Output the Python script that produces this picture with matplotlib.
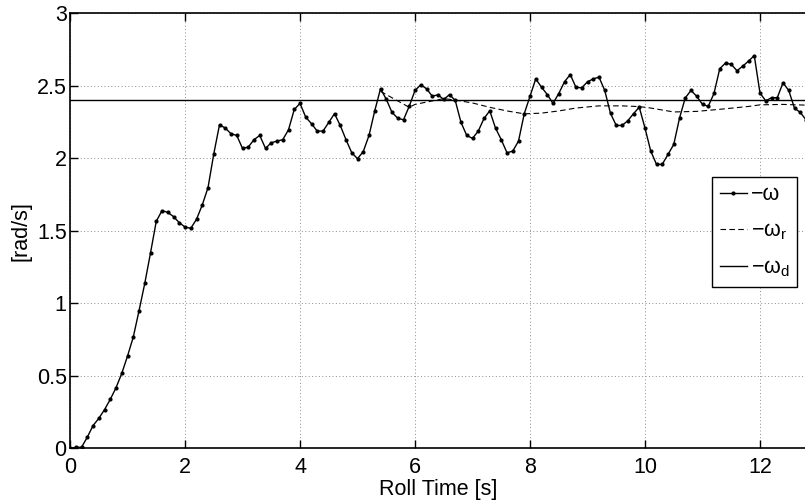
import numpy as np
import matplotlib
matplotlib.use("Agg")
import matplotlib.pyplot as plt

plt.rcParams['font.family'] = ['Liberation Sans', 'DejaVu Sans']
plt.rcParams['mathtext.fontset'] = 'custom'
plt.rcParams['mathtext.rm'] = 'Liberation Sans'
plt.rcParams['mathtext.it'] = 'Liberation Sans'

FS = 15.5

# Measured roll rate, sampled every 0.1 s
dt = 0.1
omega = [
    0.000, 0.007, 0.007, 0.076, 0.156, 0.206, 0.266, 0.337, 0.417, 0.516,
    0.635, 0.766, 0.947, 1.136, 1.346, 1.564, 1.638, 1.626, 1.597, 1.555,
    1.525, 1.516, 1.578, 1.677, 1.796, 2.028, 2.230, 2.207, 2.168, 2.156,
    2.067, 2.076, 2.127, 2.156, 2.067, 2.106, 2.117, 2.127, 2.195, 2.335,
    2.377, 2.282, 2.237, 2.186, 2.186, 2.246, 2.306, 2.225, 2.127, 2.037,
    1.996, 2.045, 2.156, 2.326, 2.478, 2.406, 2.315, 2.275, 2.264, 2.358,
    2.466, 2.505, 2.478, 2.427, 2.436, 2.404, 2.438, 2.397, 2.246, 2.156,
    2.136, 2.186, 2.273, 2.326, 2.207, 2.127, 2.037, 2.048, 2.117, 2.306,
    2.427, 2.546, 2.489, 2.438, 2.377, 2.445, 2.526, 2.576, 2.487, 2.485,
    2.526, 2.546, 2.558, 2.466, 2.308, 2.225, 2.225, 2.257, 2.306, 2.351,
    2.207, 2.048, 1.957, 1.957, 2.025, 2.094, 2.275, 2.415, 2.466, 2.426,
    2.370, 2.357, 2.446, 2.616, 2.655, 2.646, 2.602, 2.634, 2.668, 2.707,
    2.448, 2.395, 2.416, 2.416, 2.519, 2.466, 2.344, 2.315, 2.264,
]
t_omega = np.arange(len(omega)) * dt

# Reference roll rate (active from 5.4 s)
t_ref = [5.4, 5.9, 6.0, 6.5, 6.7, 7.0, 7.3, 7.6, 7.9, 8.2, 8.5, 8.8, 9.2,
         9.6, 9.9, 10.1, 10.5, 10.9, 11.4, 11.8, 12.0, 12.4, 12.8]
omega_ref = [2.46, 2.35, 2.37, 2.41, 2.40, 2.38, 2.35, 2.325, 2.305, 2.31,
             2.325, 2.345, 2.36, 2.36, 2.355, 2.345, 2.318, 2.322, 2.34,
             2.356, 2.367, 2.37, 2.365]

# Desired roll rate
omega_d = 2.4

x_ticks = [0, 2, 4, 6, 8, 10, 12]
y_ticks = [0, 0.5, 1, 1.5, 2, 2.5, 3]
y_ticklabels = ['0', '0.5', '1', '1.5', '2', '2.5', '3']

fig = plt.figure(figsize=(8.05, 5.01), dpi=100)
ax = fig.add_axes([70 / 805, 52.7 / 501, 736 / 805, 435.3 / 501])

ax.plot(t_omega, omega, color='black', lw=1.0, marker='.', markersize=4,
        label='\u2212\u03c9')
ax.plot(t_ref, omega_ref, color='black', lw=0.8, linestyle=(0, (5, 3)),
        label='\u2212\u03c9$_{\\mathregular{r}}$')
ax.axhline(omega_d, color='black', lw=1.0,
           label='\u2212\u03c9$_{\\mathregular{d}}$')

ax.set_xlim(0, 12.8)
ax.set_ylim(0, 3)
ax.set_xticks(x_ticks)
ax.set_yticks(y_ticks)
ax.set_yticklabels(y_ticklabels)
ax.tick_params(direction='in', length=5.5, width=1.0, labelsize=FS,
               top=True, right=False)
ax.tick_params(axis='x', pad=6)
ax.tick_params(axis='y', pad=2.4)

ax.grid(True, color='#8c8c8c', lw=0.7, linestyle=(0, (1, 2.5)))
for side in ('left', 'bottom', 'top'):
    ax.spines[side].set_linewidth(1.2)
ax.spines['right'].set_visible(False)

ax.set_xlabel('Roll Time [s]', fontsize=FS, labelpad=1)
ax.set_ylabel('[rad/s]', fontsize=FS, labelpad=4)

leg = ax.legend(loc='upper right', bbox_to_anchor=(0.988, 0.624),
                fontsize=FS, frameon=True, fancybox=False, framealpha=1,
                edgecolor='black', handlelength=1.25, handletextpad=0.18,
                labelspacing=0.72, borderpad=0.35, borderaxespad=0,
                numpoints=1)
leg.get_frame().set_linewidth(1.0)

fig.savefig('out.png', dpi=100)
